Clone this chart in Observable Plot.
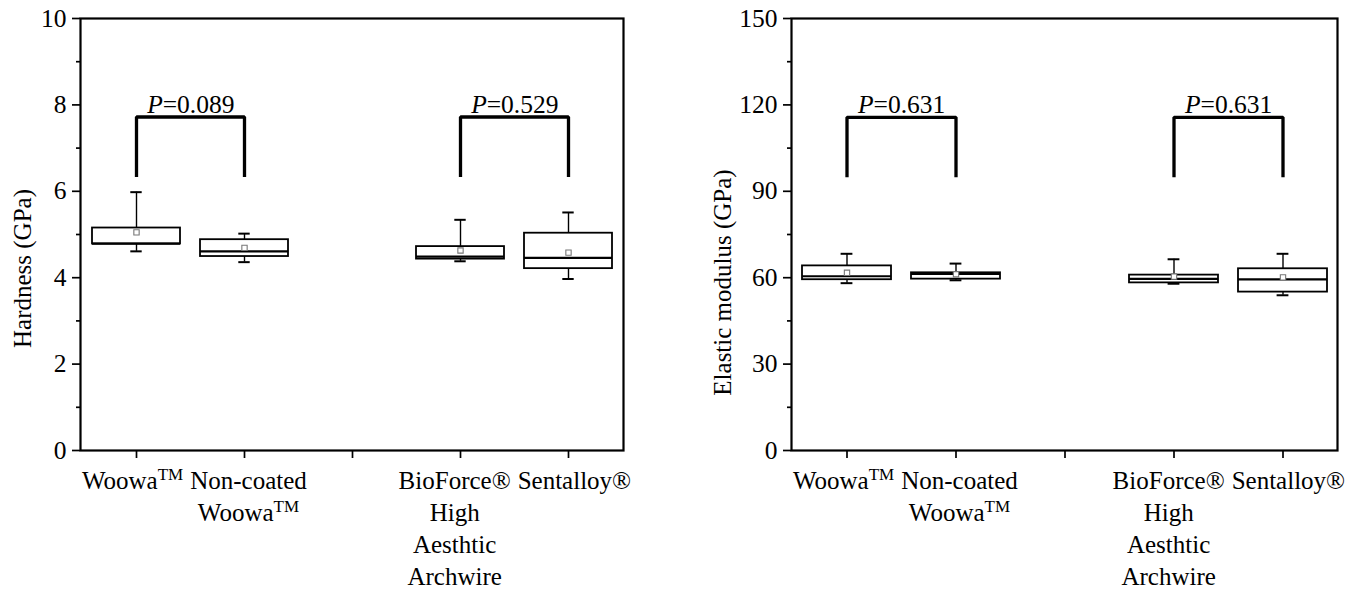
<!DOCTYPE html>
<html><head><meta charset="utf-8">
<script src="https://cdn.jsdelivr.net/npm/d3@7"></script>
<script src="https://cdn.jsdelivr.net/npm/@observablehq/plot@0.6"></script>
<style>
body{margin:0;background:#fff;}
#wrap{display:flex;width:1354px;height:590px;overflow:hidden;}
#wrap svg, #wrap svg text, #wrap svg tspan {font-family: "Liberation Serif", "Times New Roman", Times, "DejaVu Serif", serif !important;}
</style></head><body><div id="wrap"></div>
<script>
// Categories (the blank one is the gap between the two groups)
const categories = ["WoowaTM", "Non-coated\nWoowaTM", " ", "BioForce®\nHigh\nAesthtic\nArchwire", "Sentalloy®"];

// Hardness (GPa)
const hardLow    = [4.61, 4.36, null, 4.38, 3.97];
const hardQ1     = [4.78, 4.49, null, 4.43, 4.21];
const hardMedian = [4.79, 4.61, null, 4.49, 4.46];
const hardQ3     = [5.15, 4.88, null, 4.72, 5.03];
const hardHigh   = [5.98, 5.02, null, 5.34, 5.51];
const hardMean   = [5.05, 4.69, null, 4.63, 4.58];
const hardP      = ["P=0.089", "P=0.529"];
const hardBracketTop = 7.72, hardBracketBottom = 6.33;

// Elastic modulus (GPa)
const modLow    = [58.1, 59.1, null, 57.9, 53.9];
const modQ1     = [59.3, 59.5, null, 58.2, 55.0];
const modMedian = [60.5, 61.3, null, 59.6, 59.4];
const modQ3     = [64.1, 61.7, null, 60.9, 63.1];
const modHigh   = [68.3, 64.9, null, 66.4, 68.3];
const modMean   = [61.7, 61.2, null, 60.4, 60.1];
const modP      = ["P=0.631", "P=0.631"];
const modBracketTop = 115.7, modBracketBottom = 94.9;

// Compared pairs (indices into categories)
const pairs = [[0, 1], [3, 4]];

// Axis ticks
const hardTicks = [0, 2, 4, 6, 8, 10], hardMinor = [1, 3, 5, 7, 9];
const modTicks = [0, 30, 60, 90, 120, 150], modMinor = [15, 45, 75, 105, 135];

const FONT = "'Liberation Serif', 'Times New Roman', Times, 'DejaVu Serif', serif";

function panel({low, q1, med, q3, high, mean, pLabels, bTop, bBottom, ticks, minor, domain, yLabel,
                width, ml, mr, labelDx, labelDy}) {
  const rows = categories.map((c, i) => ({c, lo: low[i], q1: q1[i], med: med[i], q3: q3[i], hi: high[i], mean: mean[i]}))
    .filter(d => d.lo != null);
  const bracketPts = pairs.flatMap(([a, b], k) => [
    {c: categories[a], y: bBottom, k}, {c: categories[a], y: bTop, k},
    {c: categories[b], y: bTop, k}, {c: categories[b], y: bBottom, k}
  ]);
  const pRows = pairs.map(([a, b], k) => ({c: categories[a], t: pLabels[k], y: bTop}));
  const step = (width - ml - mr) / categories.length;
  const cap = (step - 12) / 2;
  const inset = 10;
  const svg = Plot.plot({
    width, height: 590,
    marginTop: 18, marginBottom: 140, marginLeft: ml, marginRight: mr,
    style: {fontFamily: FONT, fontSize: "25px", color: "black", background: "white"},
    x: {domain: categories, padding: 0, axis: null},
    y: {domain, axis: null},
    marks: [
      Plot.axisY({ticks, tickSize: 8, tickPadding: 6, strokeWidth: 1.7, label: null, fontFamily: FONT, fontSize: 25.5}),
      Plot.axisY({ticks: minor, tickSize: 4, tickFormat: () => "", strokeWidth: 1.7, label: null}),
      Plot.axisX({tickSize: 8, tickPadding: 8, strokeWidth: 1.7, lineHeight: 1.28, label: null, fontFamily: FONT, fontSize: 25}),
      Plot.text([yLabel], {frameAnchor: "left", text: d => d, rotate: -90, dx: labelDx, dy: labelDy,
        textAnchor: "middle", lineAnchor: "middle", fontSize: 25, fontFamily: FONT}),
      Plot.ruleX(rows, {x: "c", y1: "lo", y2: "hi", stroke: "black", strokeWidth: 1.4}),
      Plot.tickY(rows, {x: "c", y: "lo", insetLeft: cap, insetRight: cap, stroke: "black", strokeWidth: 2}),
      Plot.tickY(rows, {x: "c", y: "hi", insetLeft: cap, insetRight: cap, stroke: "black", strokeWidth: 2}),
      Plot.barY(rows, {x: "c", y1: "q1", y2: "q3", insetLeft: inset, insetRight: inset, fill: "white", stroke: "black", strokeWidth: 1.8}),
      Plot.tickY(rows, {x: "c", y: "med", insetLeft: inset, insetRight: inset, stroke: "black", strokeWidth: 2.2}),
      Plot.dot(rows, {x: "c", y: "mean", symbol: "square", r: 3, stroke: "#777", fill: "white", strokeWidth: 1.1}),
      Plot.line(bracketPts, {x: "c", y: "y", z: "k", stroke: "black", strokeWidth: 3.3, strokeLinejoin: "miter", strokeLinecap: "butt"}),
      Plot.text(pRows, {x: "c", y: "y", text: "t", dx: step / 2, dy: -4, lineAnchor: "bottom", fontSize: 25.5, fontFamily: FONT}),
      Plot.frame({stroke: "black", strokeWidth: 2.2})
    ]
  });
  // Superscript "TM" and italic "P"
  svg.querySelectorAll("text, tspan").forEach(el => {
    if (el.childElementCount) return;
    const t = el.textContent;
    if (t.endsWith("TM")) {
      el.textContent = t.slice(0, -2);
      const s = document.createElementNS("http://www.w3.org/2000/svg", "tspan");
      s.setAttribute("baseline-shift", "super");
      s.setAttribute("font-size", "0.68em");
      s.textContent = "TM";
      el.appendChild(s);
    } else if (t.startsWith("P=")) {
      el.textContent = "";
      const s = document.createElementNS("http://www.w3.org/2000/svg", "tspan");
      s.setAttribute("font-style", "italic");
      s.textContent = "P";
      el.appendChild(s);
      el.appendChild(document.createTextNode(t.slice(1)));
    }
  });
  return svg;
}

// Keep a small gap between neighbouring x tick labels (once in the DOM)
function separateLabels(svg, minGap) {
  const texts = Array.from(svg.querySelectorAll('g[aria-label="x-axis tick label"] text'))
    .filter(t => t.textContent.trim() !== "");
  const info = texts.map(t => {
    const m = /translate\(([-\d.]+)/.exec(t.getAttribute("transform") || "");
    const tx = m ? +m[1] : 0;
    const b = t.getBBox();
    return {t, left: tx + b.x, right: tx + b.x + b.width, shift: 0};
  });
  pairs.forEach(([a, b]) => {
    const ia = a, ib = b - 1; // index among non-blank labels
    const A = info[ia > 2 ? ia - 1 : ia], B = info[b > 2 ? b - 1 : b];
    if (!A || !B) return;
    const gap = B.left - A.right;
    if (gap < minGap) {
      const need = minGap - gap;
      A.shift -= need / 2; B.shift += need / 2;
    }
  });
  info.forEach(d => {
    if (d.shift) d.t.setAttribute("transform", (d.t.getAttribute("transform") || "") + ` translate(${d.shift},0)`);
  });
}

const wrap = document.getElementById("wrap");
const left = panel({low: hardLow, q1: hardQ1, med: hardMedian, q3: hardQ3, high: hardHigh, mean: hardMean,
  pLabels: hardP, bTop: hardBracketTop, bBottom: hardBracketBottom, ticks: hardTicks, minor: hardMinor,
  domain: [0, 10], yLabel: "Hardness (GPa)", width: 677, ml: 80, mr: 54, labelDx: -58, labelDy: 34});
const right = panel({low: modLow, q1: modQ1, med: modMedian, q3: modQ3, high: modHigh, mean: modMean,
  pLabels: modP, bTop: modBracketTop, bBottom: modBracketBottom, ticks: modTicks, minor: modMinor,
  domain: [0, 150], yLabel: "Elastic modulus (GPa)", width: 677, ml: 114, mr: 17, labelDx: -69, labelDy: 48});
wrap.appendChild(left);
wrap.appendChild(right);
separateLabels(left, 7);
separateLabels(right, 7);
</script>
</body></html>
